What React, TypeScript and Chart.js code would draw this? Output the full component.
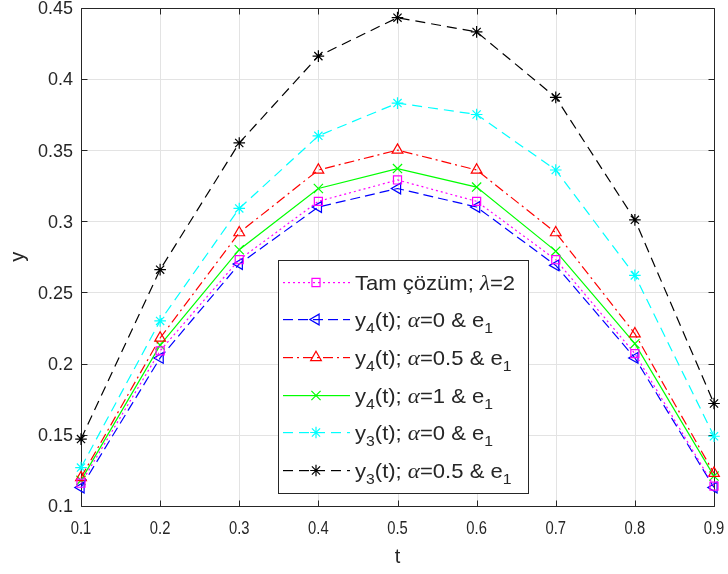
import React, { useEffect, useRef } from "react";
import { Chart, registerables } from "chart.js";

Chart.register(...registerables);

// ---------- data ----------
const tValues = [0.1, 0.2, 0.3, 0.4, 0.5, 0.6, 0.7, 0.8, 0.9];
const exactLambda2 = [0.116, 0.209, 0.273, 0.314, 0.329, 0.314, 0.273, 0.207, 0.114];
const y4Alpha0 = [0.113, 0.204, 0.27, 0.31, 0.323, 0.31, 0.269, 0.204, 0.113];
const y4Alpha05 = [0.12, 0.218, 0.292, 0.336, 0.35, 0.336, 0.292, 0.221, 0.123];
const y4Alpha1 = [0.118, 0.213, 0.28, 0.323, 0.337, 0.324, 0.279, 0.214, 0.121];
const y3Alpha0 = [0.127, 0.23, 0.309, 0.36, 0.383, 0.375, 0.336, 0.262, 0.149];
const y3Alpha05 = [0.147, 0.266, 0.355, 0.416, 0.443, 0.433, 0.387, 0.301, 0.172];

const xTickLabels = ["0.1", "0.2", "0.3", "0.4", "0.5", "0.6", "0.7", "0.8", "0.9"];
const yTickLabels = ["0.1", "0.15", "0.2", "0.25", "0.3", "0.35", "0.4", "0.45"];
const xTitle = "t";
const yTitle = "y";

type Seg = { t: string; sub?: boolean; greek?: boolean };
const legendLabels: Seg[][] = [
  [{ t: "Tam çözüm; " }, { t: "λ", greek: true }, { t: "=2" }],
  [{ t: "y" }, { t: "4", sub: true }, { t: "(t); " }, { t: "α", greek: true }, { t: "=0 & e" }, { t: "1", sub: true }],
  [{ t: "y" }, { t: "4", sub: true }, { t: "(t); " }, { t: "α", greek: true }, { t: "=0.5 & e" }, { t: "1", sub: true }],
  [{ t: "y" }, { t: "4", sub: true }, { t: "(t); " }, { t: "α", greek: true }, { t: "=1 & e" }, { t: "1", sub: true }],
  [{ t: "y" }, { t: "3", sub: true }, { t: "(t); " }, { t: "α", greek: true }, { t: "=0 & e" }, { t: "1", sub: true }],
  [{ t: "y" }, { t: "3", sub: true }, { t: "(t); " }, { t: "α", greek: true }, { t: "=0.5 & e" }, { t: "1", sub: true }],
];

// ---------- styles ----------
const TEXT = "#262626";
const GRID = "#e3e3e3";
const SANS = '"Liberation Sans", Arial, Helvetica, sans-serif';
const SERIF = '"Liberation Serif", "DejaVu Serif", serif';

type SeriesStyle = {
  values: number[];
  color: string;
  dash: number[];
  point: string;
  rotation: number;
  radius: number;
};

const series: SeriesStyle[] = [
  { values: exactLambda2, color: "#ff00ff", dash: [2, 3], point: "rect", rotation: 0, radius: 5.7 },
  { values: y4Alpha0, color: "#0000ff", dash: [10, 5], point: "triangle", rotation: -90, radius: 6.2 },
  { values: y4Alpha05, color: "#ff0000", dash: [10, 4, 2, 4], point: "triangle", rotation: 0, radius: 6.2 },
  { values: y4Alpha1, color: "#00ff00", dash: [], point: "crossRot", rotation: 0, radius: 6.5 },
  { values: y3Alpha0, color: "#00ffff", dash: [10, 6], point: "star", rotation: 0, radius: 5.8 },
  { values: y3Alpha05, color: "#000000", dash: [10, 6], point: "star", rotation: 0, radius: 5.8 },
];

function drawMarker(
  ctx: CanvasRenderingContext2D,
  style: string,
  x: number,
  y: number,
  r: number,
  rotation: number,
  color: string
) {
  ctx.save();
  ctx.strokeStyle = color;
  ctx.lineWidth = 1.2;
  ctx.setLineDash([]);
  ctx.beginPath();
  const rad = (rotation * Math.PI) / 180;
  if (style === "rect") {
    const s = r / Math.SQRT2;
    ctx.rect(x - s, y - s, 2 * s, 2 * s);
  } else if (style === "triangle") {
    let a = rad;
    ctx.moveTo(x + Math.sin(a) * r, y - Math.cos(a) * r);
    a += (2 * Math.PI) / 3;
    ctx.lineTo(x + Math.sin(a) * r, y - Math.cos(a) * r);
    a += (2 * Math.PI) / 3;
    ctx.lineTo(x + Math.sin(a) * r, y - Math.cos(a) * r);
    ctx.closePath();
  } else {
    const d = r * Math.SQRT1_2;
    ctx.moveTo(x - d, y - d);
    ctx.lineTo(x + d, y + d);
    ctx.moveTo(x + d, y - d);
    ctx.lineTo(x - d, y + d);
    if (style === "star") {
      ctx.moveTo(x - r, y);
      ctx.lineTo(x + r, y);
      ctx.moveTo(x, y - r);
      ctx.lineTo(x, y + r);
    }
  }
  ctx.stroke();
  ctx.restore();
}

// dashed horizontal legend sample drawn as filled segments
function drawSample(ctx: CanvasRenderingContext2D, x0: number, x1: number, y: number, dash: number[], color: string) {
  ctx.save();
  ctx.fillStyle = color;
  if (dash.length === 0) {
    ctx.fillRect(x0, y, x1 - x0, 1.2);
  } else {
    let x = x0;
    let k = 0;
    while (x < x1) {
      const len = dash[k % dash.length];
      if (k % 2 === 0) ctx.fillRect(x, y, Math.min(len, x1 - x), 1.2);
      x += len;
      k++;
    }
  }
  ctx.restore();
}

const framePlugin = {
  id: "matlabFrame",
  beforeDatasetsDraw(chart: any) {
    const { ctx, chartArea } = chart;
    const xs = chart.scales.x;
    const ys = chart.scales.y;
    const L = Math.round(chartArea.left) + 0.5;
    const R = Math.round(chartArea.right) + 0.5;
    const T = Math.round(chartArea.top) + 0.5;
    const B = Math.round(chartArea.bottom) + 0.5;
    ctx.save();
    ctx.lineWidth = 1;
    ctx.strokeStyle = GRID;
    ctx.beginPath();
    xTickLabels.forEach((lab) => {
      const px = Math.round(xs.getPixelForValue(parseFloat(lab))) + 0.5;
      ctx.moveTo(px, T);
      ctx.lineTo(px, B);
    });
    yTickLabels.forEach((lab) => {
      const py = Math.round(ys.getPixelForValue(parseFloat(lab))) + 0.5;
      ctx.moveTo(L, py);
      ctx.lineTo(R, py);
    });
    ctx.stroke();
    ctx.strokeStyle = TEXT;
    ctx.beginPath();
    ctx.rect(L, T, R - L, B - T);
    const tl = 6;
    xTickLabels.forEach((lab) => {
      const px = Math.round(xs.getPixelForValue(parseFloat(lab))) + 0.5;
      ctx.moveTo(px, B);
      ctx.lineTo(px, B - tl);
      ctx.moveTo(px, T);
      ctx.lineTo(px, T + tl);
    });
    yTickLabels.forEach((lab) => {
      const py = Math.round(ys.getPixelForValue(parseFloat(lab))) + 0.5;
      ctx.moveTo(L, py);
      ctx.lineTo(L + tl, py);
      ctx.moveTo(R, py);
      ctx.lineTo(R - tl, py);
    });
    ctx.stroke();
    ctx.restore();
  },
  afterDatasetsDraw(chart: any) {
    const { ctx } = chart;
    const bx = 278,
      by = 260,
      bw = 250,
      bh = 233;
    ctx.save();
    ctx.fillStyle = "#ffffff";
    ctx.fillRect(bx, by, bw, bh);
    ctx.strokeStyle = TEXT;
    ctx.lineWidth = 1;
    ctx.setLineDash([]);
    ctx.strokeRect(bx + 0.5, by + 0.5, bw, bh);
    const rowGap = 37.7;
    legendLabels.forEach((segs, i) => {
      const s = series[i];
      const cy = Math.round(281.5 + i * rowGap);
      drawSample(ctx, 283, 350, cy, s.dash, s.color);
      drawMarker(ctx, s.point, 316, cy + 0.5, s.radius, s.rotation, s.color);
      ctx.save();
      ctx.translate(355, cy + 8);
      ctx.scale(1.05, 1);
      ctx.fillStyle = TEXT;
      ctx.textBaseline = "alphabetic";
      ctx.textAlign = "left";
      let x = 0;
      segs.forEach((seg) => {
        let font = `21px ${SANS}`;
        let dy = 0;
        if (seg.sub) {
          font = `15px ${SANS}`;
          dy = 6;
        } else if (seg.greek) {
          font = `italic 22px ${SERIF}`;
        }
        ctx.font = font;
        ctx.fillText(seg.t, x, dy);
        x += ctx.measureText(seg.t).width;
      });
      ctx.restore();
    });
    ctx.restore();
  },
  afterDraw(chart: any) {
    const { ctx, chartArea } = chart;
    const xs = chart.scales.x;
    const ys = chart.scales.y;
    ctx.save();
    ctx.fillStyle = TEXT;
    ctx.font = `18px ${SANS}`;
    ctx.textBaseline = "middle";
    ctx.textAlign = "right";
    yTickLabels.forEach((lab) => {
      const py = ys.getPixelForValue(parseFloat(lab));
      ctx.fillText(lab, 73, py + 1.5);
    });
    ctx.textAlign = "center";
    xTickLabels.forEach((lab) => {
      const px = xs.getPixelForValue(parseFloat(lab));
      ctx.save();
      ctx.translate(px, 529);
      ctx.scale(0.82, 1.05);
      ctx.fillText(lab, 0, 0);
      ctx.restore();
    });
    ctx.font = `20px ${SANS}`;
    ctx.fillText(xTitle, (chartArea.left + chartArea.right) / 2, 557);
    ctx.save();
    ctx.translate(18, (chartArea.top + chartArea.bottom) / 2);
    ctx.rotate(-Math.PI / 2);
    ctx.fillText(yTitle, 0, 0);
    ctx.restore();
    ctx.restore();
  },
};

export default function App() {
  const ref = useRef<HTMLCanvasElement | null>(null);
  useEffect(() => {
    if (!ref.current) return;
    const datasets = series.map((s) => ({
      data: tValues.map((t, i) => ({ x: t, y: s.values[i] })),
      borderColor: s.color,
      borderWidth: 1.2,
      borderDash: s.dash,
      fill: false,
      tension: 0,
      pointStyle: s.point,
      pointRotation: s.rotation,
      pointRadius: s.radius,
      pointBorderColor: s.color,
      pointBackgroundColor: "rgba(0,0,0,0)",
      pointBorderWidth: 1.2,
      clip: false as any,
    }));
    const chart = new Chart(ref.current, {
      type: "line",
      data: { datasets: datasets as any },
      options: {
        animation: false,
        responsive: false,
        devicePixelRatio: 1,
        layout: { padding: { left: 0, right: 14, top: 5, bottom: 0 } },
        plugins: { legend: { display: false }, tooltip: { enabled: false } },
        scales: {
          x: {
            type: "linear",
            min: 0.1,
            max: 0.9,
            ticks: { display: false },
            grid: { display: false },
            border: { display: false },
            afterFit: (s: any) => {
              s.height = 68;
            },
          },
          y: {
            type: "linear",
            min: 0.1,
            max: 0.45,
            ticks: { display: false },
            grid: { display: false },
            border: { display: false },
            afterFit: (s: any) => {
              s.width = 81;
            },
          },
        },
      },
      plugins: [framePlugin],
    });
    return () => chart.destroy();
  }, []);
  return (
    <div style={{ position: "fixed", left: 0, top: 0, width: 728, height: 574, background: "#fff" }}>
      <canvas ref={ref} width={728} height={574} style={{ width: 728, height: 574, display: "block" }} />
    </div>
  );
}
